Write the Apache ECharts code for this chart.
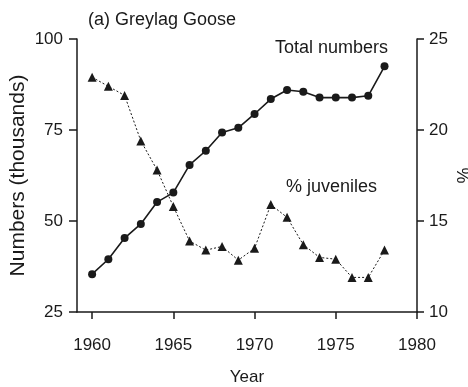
<!DOCTYPE html>
<html>
<head>
<meta charset="utf-8">
<script src="https://cdn.jsdelivr.net/npm/echarts@6/dist/echarts.min.js"></script>
<style>html,body{margin:0;padding:0;background:#fff}#c{width:468px;height:387px}</style>
</head>
<body>
<div id="c"></div>
<script>
var years = [1960,1961,1962,1963,1964,1965,1966,1967,1968,1969,1970,1971,1972,1973,1974,1975,1976,1977,1978];
var totalNumbers = [35.4,39.5,45.3,49.2,55.2,57.8,65.4,69.3,74.3,75.6,79.4,83.5,86.0,85.5,83.9,83.9,83.9,84.4,92.5];
var pctJuveniles = [22.9,22.4,21.9,19.4,17.8,15.8,13.9,13.4,13.6,12.85,13.5,15.9,15.2,13.7,13.0,12.9,11.9,11.9,13.4];
var xTicks = [1960,1965,1970,1975,1980];
var titleText = '(a) Greylag Goose';
var totalLabel = 'Total numbers';
var juvLabel = '% juveniles';

var font = 'Liberation Sans, Arial, sans-serif';
var ink = '#1a1a1a';
var chart = echarts.init(document.getElementById('c'));
chart.setOption({
  animation: false,
  backgroundColor: '#fff',
  grid: {left: 77, right: 51, top: 39, bottom: 75, containLabel: false, outerBoundsMode: 'none'},
  xAxis: {
    type: 'value', min: 1959.07, max: 1980,
    name: 'Year', nameLocation: 'middle', nameGap: 57, nameMoveOverlap: false,
    nameTextStyle: {color: ink, fontSize: 17, fontFamily: font},
    axisLine: {show: true, onZero: false, lineStyle: {color: ink, width: 1.5}},
    axisTick: {show: true, length: 7, customValues: xTicks, lineStyle: {color: ink, width: 1.5}},
    axisLabel: {customValues: xTicks, color: ink, fontSize: 17, fontFamily: font, margin: 25,
      formatter: function (v) { return String(v); }},
    splitLine: {show: false}
  },
  yAxis: [{
    type: 'value', min: 25, max: 100, interval: 25,
    name: 'Numbers (thousands)', nameLocation: 'middle', nameGap: 48, nameRotate: 90, nameMoveOverlap: false,
    nameTextStyle: {color: ink, fontSize: 21, fontFamily: font},
    axisLine: {show: true, lineStyle: {color: ink, width: 1.5}},
    axisTick: {show: true, length: 8, lineStyle: {color: ink, width: 1.5}},
    axisLabel: {color: ink, fontSize: 17, fontFamily: font, margin: 14},
    splitLine: {show: false}
  }, {
    type: 'value', min: 10, max: 25, interval: 5, position: 'right',
    name: '%', nameLocation: 'middle', nameGap: 36, nameRotate: -90, nameMoveOverlap: false,
    nameTextStyle: {color: ink, fontSize: 18, fontFamily: font},
    axisLine: {show: true, lineStyle: {color: ink, width: 1.5}},
    axisTick: {show: true, length: 7, lineStyle: {color: ink, width: 1.5}},
    axisLabel: {color: ink, fontSize: 17, fontFamily: font, margin: 12},
    splitLine: {show: false}
  }],
  series: [{
    type: 'line', yAxisIndex: 0,
    data: years.map(function (y, i) { return [y, totalNumbers[i]]; }),
    symbol: 'circle', symbolSize: 8,
    lineStyle: {color: ink, width: 1.6},
    itemStyle: {color: ink},
    z: 3
  }, {
    type: 'line', yAxisIndex: 1,
    data: years.map(function (y, i) { return [y, pctJuveniles[i]]; }),
    symbol: 'triangle', symbolSize: 9,
    lineStyle: {color: ink, width: 1, type: [2, 2]},
    itemStyle: {color: ink},
    z: 2
  }],
  graphic: [
    {type: 'text', left: 88, top: 11, style: {text: titleText, fill: ink, fontSize: 18, fontFamily: font}},
    {type: 'text', left: 275, top: 39, style: {text: totalLabel, fill: ink, fontSize: 18, fontFamily: font}},
    {type: 'text', left: 286, top: 178, style: {text: juvLabel, fill: ink, fontSize: 18, fontFamily: font}}
  ]
});
</script>
</body>
</html>
